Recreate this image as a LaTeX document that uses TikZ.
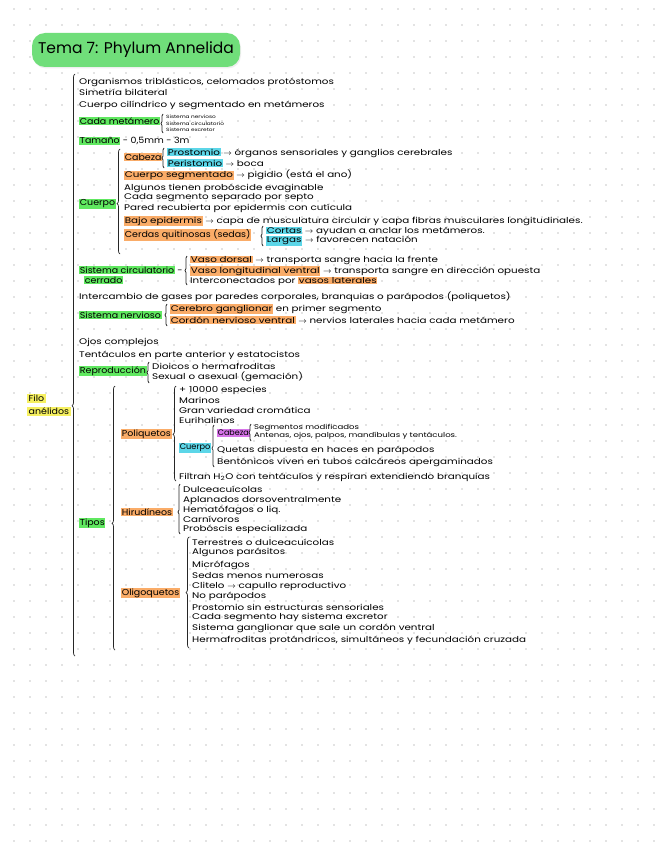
\documentclass[tikz,border=0pt]{standalone}
\usepackage{fontspec}
\newfontfamily\mano[FakeStretch=1.26]{Poppins}
\newfontfamily\manoet[FakeStretch=1.1]{Poppins}
\newfontfamily\manotit{Poppins}
\usepackage{xcolor}
\definecolor{verdet}{RGB}{112,222,122}
\definecolor{verde}{RGB}{96,232,96}
\definecolor{naranja}{RGB}{250,172,104}
\definecolor{cian}{RGB}{92,214,232}
\definecolor{morado}{RGB}{214,116,232}
\definecolor{amarillo}{RGB}{246,240,96}
\usepackage{tikz}
\usetikzlibrary{decorations.pathreplacing,shadows}
\newcommand{\marca}[2]{{\setlength{\fboxsep}{0.7pt}\colorbox{#1}{#2}}}
\newcommand{\flecha}{\ensuremath{\rightarrow}}

\begin{document}
\begin{tikzpicture}[x=1pt, y=-1pt,
  titulo/.style={rectangle, rounded corners=13pt, fill=verdet, minimum width=208pt,
                 minimum height=34pt, font=\manotit\fontsize{15.5}{18}\selectfont,
                 drop shadow={opacity=0.12, shadow xshift=1pt, shadow yshift=-1.5pt}},
  txt/.style={anchor=west, inner sep=0pt, font=\mano\fontsize{8.2}{10}\selectfont},
  etiq/.style={anchor=west, inner sep=0pt, font=\manoet\fontsize{8.6}{10}\selectfont},
  chico/.style={anchor=west, inner sep=0pt, font=\mano\fontsize{4.6}{5}\selectfont},
  medio/.style={anchor=west, inner sep=0pt, font=\mano\fontsize{6.8}{7}\selectfont},
  llave/.style={decorate, decoration={brace, amplitude=3pt}, line width=0.7pt, color=black!85},
  punto/.style={black!22}
]
\useasboundingbox (0,0) rectangle (656,848);
\fill[white] (0,0) rectangle (656,848);

%% dot grid
\foreach \i in {0,...,40}
  \foreach \j in {0,...,52}
    \fill[punto] (14+16*\i, 9+16*\j) circle (0.9);

%% title
\node[titulo] (tit) at (136,50) {Tema 7: Phylum Annelida};

%% phylum
\node[etiq, align=left] (filo) at (27,405)
  {{\setlength{\fboxsep}{1.5pt}\colorbox{amarillo}{Filo}}\\[3pt]{\setlength{\fboxsep}{1.5pt}\colorbox{amarillo}{anélidos}}};
\draw[llave, decoration={aspect=0.43}] (75,656) -- (75,74);

%% general
\node[txt] (org) at (79,82)  {Organismos triblásticos, celomados protóstomos};
\node[txt] (sim) at (79,92)  {Simetría bilateral};
\node[txt] (cil) at (79,105) {Cuerpo cilíndrico y segmentado en metámeros};

\node[etiq] (met) at (79,121) {\marca{verde}{Cada metámero}};
\draw[llave, decoration={amplitude=2pt}] (163,133) -- (163,114);
\node[chico] (met1) at (166,117) {Sistema nervioso};
\node[chico] (met2) at (166,123.5) {Sistema circulatorio};
\node[chico] (met3) at (166,130) {Sistema excretor};

\node[etiq] (tam) at (79,141) {\marca{verde}{Tamaño} - 0,5mm - 3m};

%% cuerpo
\node[etiq] (cpo) at (79,204) {\marca{verde}{Cuerpo}};
\draw[llave, decoration={aspect=0.48}] (120,254) -- (120,149);
\node[etiq] (cab) at (124,157) {\marca{naranja}{Cabeza}};
\draw[llave, decoration={amplitude=2pt}] (164,168) -- (164,148);
\node[txt] (pro) at (167,153) {\marca{cian}{Prostomio} \flecha{} órganos sensoriales y ganglios cerebrales};
\node[txt] (per) at (167,163) {\marca{cian}{Peristomio} \flecha{} boca};
\node[txt] (seg) at (124,175) {\marca{naranja}{Cuerpo segmentado} \flecha{} pigidio (está el ano)};
\node[txt] (pros) at (124,188) {Algunos tienen probóscide evaginable};
\node[txt] (sep) at (124,198) {Cada segmento separado por septo};
\node[txt] (par) at (124,208) {Pared recubierta por epidermis con cutícula};
\node[txt] (baj) at (124,221) {\marca{naranja}{Bajo epidermis} \flecha{} capa de musculatura circular y capa fibras musculares longitudinales.};
\node[etiq] (cer) at (124,235) {\marca{naranja}{Cerdas quitinosas (sedas)}};
\draw[llave, decoration={amplitude=2pt}] (263,246) -- (263,226);
\node[txt] (cor) at (266,231) {\marca{cian}{Cortas} \flecha{} ayudan a anclar los metámeros.};
\node[txt] (lar) at (266,241) {\marca{cian}{Largas} \flecha{} favorecen natación};

%% circulatorio
\node[etiq, align=left] (circ) at (79,275) {\marca{verde}{Sistema circulatorio} -\\\hspace{5pt}\marca{verde}{cerrado}};
\draw[llave, decoration={amplitude=2pt}] (187,285) -- (187,256);
\node[txt] (vd) at (190,260) {\marca{naranja}{Vaso dorsal} \flecha{} transporta sangre hacia la frente};
\node[txt] (vl) at (190,271) {\marca{naranja}{Vaso longitudinal ventral} \flecha{} transporta sangre en dirección opuesta};
\node[txt] (vi) at (190,281) {Interconectados por \marca{naranja}{vasos laterales}};

\node[txt] (gas) at (79,297) {Intercambio de gases por paredes corporales, branquias o parápodos (poliquetos)};

%% nervioso
\node[etiq] (ner) at (79,315) {\marca{verde}{Sistema nervioso}};
\draw[llave, decoration={amplitude=2pt}] (167,326) -- (167,304);
\node[txt] (ner1) at (170,309) {\marca{naranja}{Cerebro ganglionar} en primer segmento};
\node[txt] (ner2) at (170,320) {\marca{naranja}{Cordón nervioso ventral} \flecha{} nervios laterales hacia cada metámero};

\node[txt] (ojo) at (79,342) {Ojos complejos};
\node[txt] (ten) at (79,355) {Tentáculos en parte anterior y estatocistos};

%% reproduccion
\node[etiq] (rep) at (79,371) {\marca{verde}{Reproducción}};
\draw[llave, decoration={amplitude=2pt}] (149,383) -- (149,362);
\node[txt] (rep1) at (152,366) {Dioicos o hermafroditas};
\node[txt] (rep2) at (152,377) {Sexual o asexual (gemación)};

%% tipos
\node[etiq] (tip) at (79,523) {\marca{verde}{Tipos}};
\draw[llave, decoration={aspect=0.48}] (115,650) -- (115,386);

% poliquetos
\node[etiq] (pol) at (121,434) {\marca{naranja}{Poliquetos}};
\draw[llave, decoration={aspect=0.49}] (176,481) -- (176,386);
\node[txt] (pol1) at (179,390) {+ 10000 especies};
\node[txt] (pol2) at (179,400) {Marinos};
\node[txt] (pol3) at (179,410) {Gran variedad cromática};
\node[txt] (pol4) at (179,420) {Eurihalinos};
\node[etiq, font=\manotit\fontsize{8.2}{10}\selectfont] (pcpo) at (179,448) {\marca{cian}{Cuerpo}};
\draw[llave, decoration={amplitude=2pt, aspect=0.45}] (214,467) -- (214,425);
\node[etiq, font=\manotit\fontsize{8}{10}\selectfont] (pcab) at (217,433) {\marca{morado}{Cabeza}};
\draw[llave, decoration={amplitude=2pt}] (251,441) -- (251,424);
\node[medio] (pcab1) at (254,428) {Segmentos modificados};
\node[medio] (pcab2) at (254,436) {Antenas, ojos, palpos, mandíbulas y tentáculos.};
\node[txt] (pque) at (217,450) {Quetas dispuesta en haces en parápodos};
\node[txt] (pben) at (217,462) {Bentónicos viven en tubos calcáreos apergaminados};
\node[txt] (pfil) at (179,477) {Filtran H\textsubscript{2}O con tentáculos y respiran extendiendo branquias};

% hirudineos
\node[etiq] (hir) at (121,512) {\marca{naranja}{Hirudíneos}};
\draw[llave, decoration={amplitude=2pt, aspect=0.44}] (180,534) -- (180,484);
\node[txt] (hir1) at (183,489) {Dulceacuícolas};
\node[txt] (hir2) at (183,501) {Aplanados dorsoventralmente};
\node[txt] (hir3) at (183,510) {Hematófagos o liq.};
\node[txt] (hir4) at (183,519) {Carnívoros};
\node[txt] (hir5) at (183,529) {Probóscis especializada};

% oligoquetos
\node[etiq] (oli) at (121,593) {\marca{naranja}{Oligoquetos}};
\draw[llave, decoration={aspect=0.5}] (189,648) -- (189,537);
\node[txt] (oli1)  at (192,542) {Terrestres o dulceacuícolas};
\node[txt] (oli2)  at (192,552) {Algunos parásitos};
\node[txt] (oli3)  at (192,565) {Micrófagos};
\node[txt] (oli4)  at (192,575.5) {Sedas menos numerosas};
\node[txt] (oli5)  at (192,586) {Clitelo \flecha{} capullo reproductivo};
\node[txt] (oli6)  at (192,596.5) {No parápodos};
\node[txt] (oli7)  at (192,607) {Prostomio sin estructuras sensoriales};
\node[txt] (oli8)  at (192,617) {Cada segmento hay sistema excretor};
\node[txt] (oli9)  at (192,628) {Sistema ganglionar que sale un cordón ventral};
\node[txt] (oli10) at (192,640) {Hermafroditas protándricos, simultáneos y fecundación cruzada};
\end{tikzpicture}
\end{document}
